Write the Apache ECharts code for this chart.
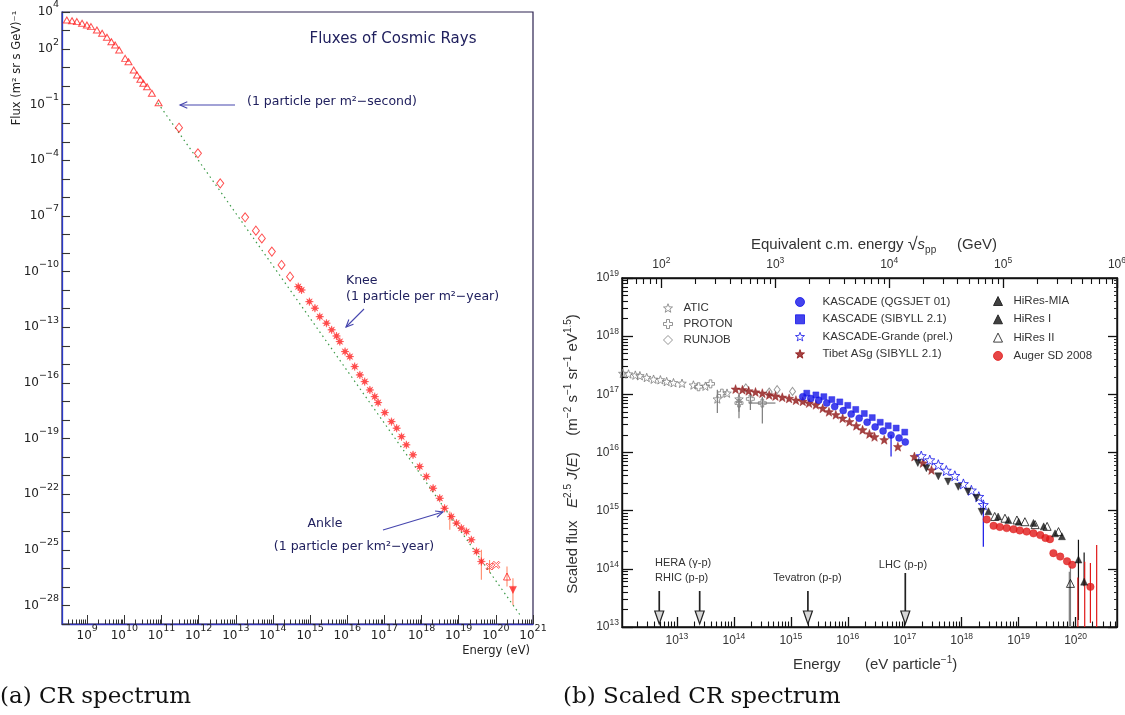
<!DOCTYPE html>
<html>
<head>
<meta charset="utf-8">
<script src="https://cdn.jsdelivr.net/npm/echarts@6/dist/echarts.min.js"></script>
<style>
html, body { margin: 0; padding: 0; background: #ffffff; }
#c { width: 1125px; height: 715px; }
</style>
</head>
<body>
<div id="c"></div>
<script>
// ---------------- (a) cosmic-ray flux: log10 E [eV], log10 J [(m^2 sr s GeV)^-1] ----------------
const lowE  = [8.45, 8.59, 8.72, 8.86, 8.99, 9.10, 9.26, 9.40, 9.53, 9.65, 9.75, 9.86, 10.02, 10.11, 10.25, 10.34, 10.43, 10.51, 10.61, 10.74, 10.92];
const lowF  = [3.57, 3.53, 3.48, 3.39, 3.30, 3.21, 3.03, 2.85, 2.64, 2.40, 2.22, 1.95, 1.50, 1.32, 0.87, 0.60, 0.37, 0.16, -0.03, -0.38, -0.89];
const midE  = [11.47, 11.98, 12.58, 13.25, 13.54, 13.70, 13.97, 14.23, 14.46];
const midF  = [-2.24, -3.62, -5.24, -7.07, -7.79, -8.21, -8.92, -9.64, -10.27];
const kneeE = [14.68, 14.77, 14.98, 15.13, 15.26, 15.44, 15.58, 15.71, 15.80, 15.94, 16.07, 16.20, 16.34, 16.47, 16.61, 16.74, 16.83, 17.01,
               17.19, 17.33, 17.46, 17.59, 17.77, 17.95, 18.13, 18.31, 18.49, 18.62, 18.80, 18.94, 19.07, 19.21, 19.34, 19.48, 19.61];
const kneeF = [-10.81, -10.99, -11.62, -11.97, -12.43, -12.78, -13.14, -13.47, -13.77, -14.31, -14.58, -15.12, -15.57, -15.93, -16.38, -16.74, -17.06, -17.60,
               -18.09, -18.44, -18.90, -19.34, -19.88, -20.51, -21.05, -21.68, -22.22, -22.76, -23.21, -23.56, -23.83, -24.02, -24.46, -25.09, -25.63];
const uheE  = [19.83, 20.01];
const uheF  = [-25.90, -25.81];
const agE   = [20.30];
const agF   = [-26.44];
const hiresE = [20.46];
const hiresF = [-27.16];
// vertical error bars: [log10 E, low, high]
const errA  = [[18.76, -23.92, -22.94], [19.61, -26.62, -25.00], [19.83, -26.25, -25.55], [20.30, -26.98, -25.90], [20.46, -27.97, -26.53]];
// reference power law
const fitE  = [10.90, 20.65];
const fitF  = [-0.91, -28.51];
const yLabelsA = [4, 2, -1, -4, -7, -10, -13, -16, -19, -22, -25, -28];

// ---------------- (b) scaled flux: log10 E [eV], log10 E^2.5 J(E) ----------------
const aticE   = [12.05, 12.15, 12.27, 12.35, 12.47, 12.59, 12.71, 12.82, 12.94, 13.09, 13.29, 13.50, 13.71, 13.88, 14.09];
const aticF   = [17.36, 17.35, 17.33, 17.32, 17.29, 17.26, 17.25, 17.22, 17.20, 17.19, 17.16, 17.14, 16.92, 17.02, 16.92];
const protonE = [13.38, 13.59, 13.79, 14.09, 14.29, 14.50];
const protonF = [17.13, 17.18, 17.02, 16.85, 16.92, 16.85];
const runjobE = [14.21, 14.62, 14.76, 15.03];
const runjobF = [17.11, 17.04, 17.08, 17.05];
const tibetE  = [14.03, 14.15, 14.26, 14.38, 14.50, 14.62, 14.73, 14.85, 14.97, 15.09, 15.21, 15.32, 15.44, 15.56, 15.67, 15.79, 15.91, 16.03,
                 16.15, 16.26, 16.38, 16.47, 16.64, 16.88, 17.17, 17.32, 17.47];
const tibetF  = [17.09, 17.08, 17.06, 17.04, 17.02, 16.99, 16.97, 16.95, 16.93, 16.90, 16.88, 16.85, 16.82, 16.76, 16.70, 16.65, 16.59, 16.53,
                 16.46, 16.39, 16.32, 16.27, 16.22, 16.10, 15.93, 15.82, 15.70];
const kqE = [15.21, 15.35, 15.49, 15.63, 15.77, 15.92, 16.06, 16.20, 16.34, 16.48, 16.62, 16.76, 16.90, 17.01];
const kqF = [16.96, 16.93, 16.90, 16.85, 16.79, 16.72, 16.66, 16.59, 16.52, 16.44, 16.37, 16.30, 16.25, 16.18];
const ksE = [15.28, 15.44, 15.58, 15.72, 15.86, 16.00, 16.14, 16.29, 16.43, 16.57, 16.71, 16.85, 17.00];
const ksF = [17.02, 16.99, 16.96, 16.91, 16.87, 16.81, 16.74, 16.67, 16.60, 16.52, 16.46, 16.42, 16.35];
const kgE = [17.29, 17.44, 17.59, 17.73, 17.88, 18.03, 18.17, 18.30, 18.38];
const kgF = [15.94, 15.87, 15.79, 15.69, 15.60, 15.46, 15.35, 15.24, 15.10];
const miaE = [17.23, 17.38, 17.59, 17.76, 17.94, 18.11, 18.26, 18.35];
const miaF = [15.82, 15.73, 15.59, 15.50, 15.41, 15.33, 15.22, 14.98];
const hr1E = [18.47, 18.64, 18.82, 19.00, 19.26, 19.44, 19.64, 19.76, 20.05, 20.15];
const hr1F = [14.99, 14.90, 14.84, 14.81, 14.79, 14.73, 14.61, 14.56, 14.16, 13.78];
const hr2E = [18.58, 18.76, 18.97, 19.11, 19.29, 19.50, 19.70, 19.91];
const hr2F = [14.90, 14.87, 14.84, 14.81, 14.76, 14.73, 14.64, 13.75];
const augerE = [18.44, 18.56, 18.67, 18.79, 18.91, 19.02, 19.14, 19.26, 19.38, 19.47, 19.55, 19.61, 19.73, 19.85, 19.94, 20.26];
const augerF = [14.85, 14.74, 14.72, 14.70, 14.68, 14.66, 14.64, 14.61, 14.58, 14.53, 14.51, 14.27, 14.21, 14.13, 14.07, 13.69];
const errGray  = [[13.71, 16.68, 17.08], [14.09, 16.70, 16.92], [14.09, 16.59, 17.02], [14.29, 16.73, 17.02], [14.50, 16.50, 16.96], [19.91, 13.0, 14.04], [19.89, 13.0, 13.95]];
const errGrayH = [[14.50, 16.85, 14.26, 14.73]];
const errBlue  = [[16.76, 15.93, 16.30], [18.38, 14.38, 15.15]];
const errBlack = [[20.05, 13.12, 14.50], [20.15, 13.70, 14.28]];
const errRed   = [[20.04, 13.0, 13.85], [20.16, 13.0, 14.12], [20.26, 13.07, 14.10], [20.37, 13.0, 14.41]];
// accelerator equivalents: lab-frame energy in eV
const accelNames = ['HERA', 'RHIC', 'Tevatron', 'LHC'];
const accelE     = [12.69, 13.40, 15.30, 17.01];

// ---------------- helpers ----------------
const pts = (xs, ys) => xs.map((x, i) => [x, ys[i]]);
const majorTicks = (lo, hi) => { const o = []; for (let n = Math.ceil(lo - 1e-9); n <= hi + 1e-9; n++) o.push(n); return o; };
const minorTicks = (lo, hi) => {
  const o = [];
  for (let n = Math.floor(lo); n < hi; n++) for (let k = 2; k <= 9; k++) { const v = n + Math.log10(k); if (v > lo && v < hi) o.push(v); }
  return o;
};
const powLabel = v => { const e = Math.round(v); return '{b|10}{s|' + (e < 0 ? '\u2212' + (-e) : e) + '}'; };
// sqrt(s) of a p-p collision for a cosmic proton of energy E on a proton at rest
const sqrtS = logE => 0.5 * (logE - 9 + Math.log10(2 * 0.938));

function starPath(n, inner) {
  let d = '';
  for (let i = 0; i < 2 * n; i++) {
    const r = i % 2 ? inner : 1, a = Math.PI * i / n - Math.PI / 2;
    d += (i ? 'L' : 'M') + (r * Math.cos(a)).toFixed(3) + ',' + (r * Math.sin(a)).toFixed(3);
  }
  return 'path://' + d + 'Z';
}
const STAR5 = starPath(5, 0.42);
const AST8 = starPath(8, 0.38);
const CROSS = 'path://M-1,-3L1,-3L1,-1L3,-1L3,1L1,1L1,3L-1,3L-1,1L-3,1L-3,-1L-1,-1Z';
const XCROSS = 'path://M-3,-2L-2,-3L0,-1L2,-3L3,-2L1,0L3,2L2,3L0,1L-2,3L-3,2L-1,0Z';
const NOFILL = 'rgba(255,255,255,0)';

const FA = 'DejaVu Sans';
const FB = 'Liberation Sans';
const richA = {
  b: { fontFamily: FA, fontSize: 12, color: '#222', lineHeight: 24 },
  s: { fontFamily: FA, fontSize: 9.5, color: '#222', lineHeight: 10, verticalAlign: 'top' }
};
const richB = {
  b: { fontFamily: FB, fontSize: 12, color: '#333', lineHeight: 18 },
  s: { fontFamily: FB, fontSize: 8.5, color: '#333', lineHeight: 9, verticalAlign: 'top' }
};

// axis ranges
const xA = [8.32, 21], yA = [-29, 4];
const xB = [12.036, 20.727], yB = [13, 19];
const xTop = [sqrtS(xB[0]), sqrtS(xB[1])];

function scatter(xi, yi, name, xs, ys, symbol, size, color, open, extra) {
  return Object.assign({
    type: 'scatter', name, xAxisIndex: xi, yAxisIndex: yi, data: pts(xs, ys),
    symbol, symbolSize: size, silent: true, z: 3,
    itemStyle: open ? { color: NOFILL, borderColor: color, borderWidth: 1 } : { color, borderColor: color, borderWidth: 0.5 }
  }, extra || {});
}
function errBars(xi, yi, data, color, width) {
  return {
    type: 'custom', xAxisIndex: xi, yAxisIndex: yi, data, silent: true, z: 2,
    renderItem(params, api) {
      const p1 = api.coord([api.value(0), api.value(1)]);
      const p2 = api.coord([api.value(0), api.value(2)]);
      return { type: 'line', shape: { x1: p1[0], y1: p1[1], x2: p2[0], y2: p2[1] }, style: { stroke: color, lineWidth: width } };
    }
  };
}
function errBarsH(xi, yi, data, color, width) {
  return {
    type: 'custom', xAxisIndex: xi, yAxisIndex: yi, data, silent: true, z: 2,
    renderItem(params, api) {
      const p1 = api.coord([api.value(2), api.value(1)]);
      const p2 = api.coord([api.value(3), api.value(1)]);
      return { type: 'line', shape: { x1: p1[0], y1: p1[1], x2: p2[0], y2: p2[1] }, style: { stroke: color, lineWidth: width } };
    }
  };
}

// ---------------- series ----------------
const RED = '#ff2222';
const GRAY = '#7c7c7c', BLUE = '#1414e8', DRED = '#8e1414', BLACK = '#111111', ARED = '#e01818';
const series = [
  { type: 'line', xAxisIndex: 0, yAxisIndex: 0, data: pts(fitE, fitF), symbol: 'none', silent: true, z: 1,
    lineStyle: { color: '#3c9a48', width: 1.2, type: [1.5, 3.5] } },
  errBars(0, 0, errA, '#ff8a6a', 1.1),
  scatter(0, 0, 'low', lowE, lowF, 'triangle', [7, 6], RED, true),
  scatter(0, 0, 'mid', midE, midF, 'diamond', [7, 9], RED, true),
  scatter(0, 0, 'knee', kneeE, kneeF, AST8, 8, RED, false),
  scatter(0, 0, 'uhe', uheE, uheF, XCROSS, 7, RED, true),
  scatter(0, 0, 'ag', agE, agF, 'triangle', [7, 7], RED, true),
  scatter(0, 0, 'hires', hiresE, hiresF, 'triangle', [7, 7], RED, false, { symbolRotate: 180 }),

  errBars(2, 1, errGray, GRAY, 1.2),
  errBarsH(2, 1, errGrayH, GRAY, 1.2),
  errBars(2, 1, errBlue, BLUE, 1.2),
  errBars(2, 1, errBlack, BLACK, 1.2),
  errBars(2, 1, errRed, ARED, 1.2),
  scatter(2, 1, 'ATIC', aticE, aticF, STAR5, 8.5, GRAY, true),
  scatter(2, 1, 'PROTON', protonE, protonF, CROSS, 8, GRAY, true),
  scatter(2, 1, 'RUNJOB', runjobE, runjobF, 'diamond', [6, 8], GRAY, true),
  scatter(2, 1, 'Tibet ASg (SIBYLL 2.1)', tibetE, tibetF, STAR5, 9, DRED, false),
  scatter(2, 1, 'KASCADE (SIBYLL 2.1)', ksE, ksF, 'rect', 6, BLUE, false),
  scatter(2, 1, 'KASCADE (QGSJET 01)', kqE, kqF, 'circle', 7, BLUE, false),
  scatter(2, 1, 'KASCADE-Grande (prel.)', kgE, kgF, STAR5, 10, BLUE, true),
  scatter(2, 1, 'HiRes-MIA', miaE, miaF, 'triangle', 7, BLACK, false, { symbolRotate: 180 }),
  scatter(2, 1, 'Auger SD 2008', augerE, augerF, 'circle', 7.5, ARED, false),
  scatter(2, 1, 'HiRes I', hr1E, hr1F, 'triangle', 7, BLACK, false),
  scatter(2, 1, 'HiRes II', hr2E, hr2F, 'triangle', 8, BLACK, true),
  {
    type: 'custom', xAxisIndex: 2, yAxisIndex: 1, silent: true, z: 5,
    data: accelE.map((e, i) => [e, yB[0], i]),
    renderItem(params, api) {
      const p = api.coord([api.value(0), api.value(1)]);
      const len = api.value(2) === 3 ? 51 : 33;
      const x = p[0], tip = p[1] - 3;
      return { type: 'group', children: [
        { type: 'line', shape: { x1: x, y1: tip - len, x2: x, y2: tip - 12 }, style: { stroke: '#222', lineWidth: 1.7 } },
        { type: 'polygon', shape: { points: [[x - 4.5, tip - 13], [x + 4.5, tip - 13], [x, tip]] }, style: { fill: '#d6d6d6', stroke: '#222', lineWidth: 1.2 } }
      ] };
    }
  }
];

// ---------------- axes ----------------
function axisBase(gi, pos, range) {
  return { gridIndex: gi, type: 'value', position: pos, min: range[0], max: range[1], splitLine: { show: false } };
}
function line(color, width, show) {
  return { show: show !== false, onZero: false, lineStyle: { color, width } };
}
const xAxis = [
  Object.assign(axisBase(0, 'bottom', xA), {
    axisLine: line('#3434b4', 1.3),
    axisTick: { show: true, inside: true, length: 9, customValues: majorTicks(9, 21), lineStyle: { color: '#333', width: 1 } },
    axisLabel: { show: true, margin: 0, customValues: majorTicks(9, 21), formatter: powLabel, rich: richA }
  }),
  Object.assign(axisBase(0, 'bottom', xA), {
    axisLine: line('#333', 1, false),
    axisTick: { show: true, inside: true, length: 4.5, customValues: minorTicks(xA[0], xA[1]), lineStyle: { color: '#333', width: 1 } },
    axisLabel: { show: false }
  }),
  Object.assign(axisBase(1, 'bottom', xB), {
    axisLine: line('#111', 1.4),
    axisTick: { show: true, inside: true, length: 10, customValues: majorTicks(13, 20), lineStyle: { color: '#111', width: 1.3 } },
    axisLabel: { show: true, margin: 5, customValues: majorTicks(13, 20), formatter: powLabel, rich: richB }
  }),
  Object.assign(axisBase(1, 'bottom', xB), {
    axisLine: line('#111', 1, false),
    axisTick: { show: true, inside: true, length: 5.5, customValues: minorTicks(xB[0], xB[1]), lineStyle: { color: '#111', width: 1.1 } },
    axisLabel: { show: false }
  }),
  Object.assign(axisBase(1, 'top', xTop), {
    axisLine: line('#111', 1.4),
    axisTick: { show: true, inside: true, length: 10, customValues: majorTicks(2, 6), lineStyle: { color: '#111', width: 1.3 } },
    axisLabel: { show: true, margin: 4, customValues: majorTicks(2, 6), formatter: powLabel, rich: richB }
  }),
  Object.assign(axisBase(1, 'top', xTop), {
    axisLine: line('#111', 1, false),
    axisTick: { show: true, inside: true, length: 6, customValues: minorTicks(xTop[0], xTop[1]), lineStyle: { color: '#111', width: 1.1 } },
    axisLabel: { show: false }
  })
];
const yAxis = [
  Object.assign(axisBase(0, 'left', yA), {
    interval: 1,
    axisLine: line('#2a3ac8', 1.3),
    axisTick: { show: true, inside: true, length: 8, lineStyle: { color: '#333', width: 1.1 } },
    axisLabel: { show: true, margin: 3, customValues: yLabelsA, formatter: powLabel, rich: richA }
  }),
  Object.assign(axisBase(1, 'left', yB), {
    interval: 1,
    axisLine: line('#111', 1.4),
    axisTick: { show: true, inside: true, length: 11, lineStyle: { color: '#111', width: 1.3 } },
    axisLabel: { show: true, margin: 3, formatter: powLabel, rich: richB }
  }),
  Object.assign(axisBase(1, 'left', yB), {
    axisLine: line('#111', 1, false),
    axisTick: { show: true, inside: true, length: 6, customValues: minorTicks(yB[0], yB[1]), lineStyle: { color: '#111', width: 1.1 } },
    axisLabel: { show: false }
  }),
  Object.assign(axisBase(1, 'right', yB), {
    interval: 1,
    axisLine: line('#111', 1.4),
    axisTick: { show: true, inside: true, length: 9, lineStyle: { color: '#111', width: 1.3 } },
    axisLabel: { show: false }
  }),
  Object.assign(axisBase(1, 'right', yB), {
    axisLine: line('#111', 1, false),
    axisTick: { show: true, inside: true, length: 3, customValues: minorTicks(yB[0], yB[1]), lineStyle: { color: '#333', width: 1 } },
    axisLabel: { show: false }
  })
];

// ---------------- legends (panel b) ----------------
function legendCol(left, top, gap, names, pad) {
  return {
    left, top, orient: 'vertical', padding: 0, itemWidth: 9, itemHeight: 9, itemGap: gap, selectedMode: false,
    data: names, itemStyle: { borderWidth: 1 },
    textStyle: { fontFamily: FB, fontSize: 11.5, color: '#333', lineHeight: 12, padding: [0, 0, 0, pad] }
  };
}
const legend = [
  legendCol(663, 302, 4, ['ATIC', 'PROTON', 'RUNJOB'], 6),
  legendCol(795, 296, 5.3, ['KASCADE (QGSJET 01)', 'KASCADE (SIBYLL 2.1)', 'KASCADE-Grande (prel.)', 'Tibet ASg (SIBYLL 2.1)'], 13),
  legendCol(993, 295, 6.3, ['HiRes-MIA', 'HiRes I', 'HiRes II', 'Auger SD 2008'], 6)
];

// ---------------- annotations ----------------
const NAVY = '#20205e', ARROW = '#4646ae';
function arrow(x1, y1, x2, y2, color) {
  const a = Math.atan2(y2 - y1, x2 - x1), L = 8, w = 0.42;
  return [
    { type: 'line', shape: { x1, y1, x2, y2 }, style: { stroke: color, lineWidth: 1.1 } },
    { type: 'polyline', shape: { points: [[x2 - L * Math.cos(a - w), y2 - L * Math.sin(a - w)], [x2, y2], [x2 - L * Math.cos(a + w), y2 - L * Math.sin(a + w)]] },
      style: { stroke: color, lineWidth: 1.1, fill: null } }
  ];
}
function txt(x, y, text, font, size, color, align, extra) {
  return Object.assign({ type: 'text', x, y, style: { text, fontFamily: font, fontSize: size, fill: color, align: align || 'left', verticalAlign: 'middle' } }, extra || {});
}
const supB = { fontFamily: FB, fontSize: 10, fill: '#333', lineHeight: 10, verticalAlign: 'top' };
const tB = { fontFamily: FB, fontSize: 15, fill: '#333', lineHeight: 20 };
const iB = Object.assign({}, tB, { fontStyle: 'italic' });
const graphic = [
  txt(393, 39, 'Fluxes of Cosmic Rays', FA, 15, NAVY, 'center'),
  txt(247, 102, '(1 particle per m\u00b2\u2212second)', FA, 12.5, NAVY),
  ...arrow(235, 105, 180, 105, ARROW),
  txt(346, 281, 'Knee', FA, 12.5, NAVY),
  txt(346, 297, '(1 particle per m\u00b2\u2212year)', FA, 12.5, NAVY),
  ...arrow(364, 309, 346, 327, ARROW),
  txt(325, 524, 'Ankle', FA, 12.5, NAVY, 'center'),
  txt(354, 547, '(1 particle per km\u00b2\u2212year)', FA, 12.5, NAVY, 'center'),
  ...arrow(383, 530, 443, 512, ARROW),
  txt(17, 68, 'Flux (m\u00b2 sr s GeV)\u207b\u00b9', FA, 11.5, '#222', 'center', { rotation: Math.PI / 2 }),
  txt(530, 651, 'Energy (eV)', FA, 11.5, '#222', 'right'),
  txt(0, 697, '(a) CR spectrum', 'DejaVu Serif', 23, '#111'),

  { type: 'text', x: 874, y: 245, style: {
      text: '{t|Equivalent c.m. energy }{r|\u221a}{i|s}{q|pp}{t|     (GeV)}', align: 'center', verticalAlign: 'middle',
      rich: { t: tB, i: iB, r: Object.assign({}, tB, { fontSize: 18 }), q: Object.assign({}, supB, { verticalAlign: 'bottom' }) } } },
  { type: 'text', x: 573, y: 454, rotation: Math.PI / 2, style: {
      text: '{t|Scaled flux   }{i|E}{p|2.5}{t| }{i|J}{t|(}{i|E}{t|)    (m}{p|\u22122}{t| s}{p|\u22121}{t| sr}{p|\u22121}{t| eV}{p|1.5}{t|)}',
      align: 'center', verticalAlign: 'middle', rich: { t: tB, i: iB, p: supB } } },
  txt(793, 665, 'Energy', FB, 15, '#333'),
  { type: 'text', x: 865, y: 665, style: {
      text: '{t|(eV particle}{p|\u22121}{t|)}', align: 'left', verticalAlign: 'middle', rich: { t: tB, p: supB } } },
  txt(655, 563, 'HERA (\u03b3-p)', FB, 11, '#333'),
  txt(655, 578, 'RHIC (p-p)', FB, 11, '#333'),
  txt(807.5, 578, 'Tevatron (p-p)', FB, 11, '#333', 'center'),
  txt(903, 565, 'LHC (p-p)', FB, 11, '#333', 'center'),
  txt(563, 697, '(b) Scaled CR spectrum', 'DejaVu Serif', 23, '#111')
];

const chart = echarts.init(document.getElementById('c'), null, { renderer: 'canvas', width: 1125, height: 715 });
chart.setOption({
  backgroundColor: '#ffffff',
  animation: false,
  grid: [
    { left: 62, top: 12, width: 471, height: 612, show: true, borderColor: '#2c2250', borderWidth: 1.2, outerBoundsMode: 'none', containLabel: false },
    { left: 622, top: 278, width: 495, height: 349, show: true, borderColor: '#111', borderWidth: 1.4, outerBoundsMode: 'none', containLabel: false }
  ],
  xAxis, yAxis, legend, series, graphic
});
</script>
</body>
</html>
